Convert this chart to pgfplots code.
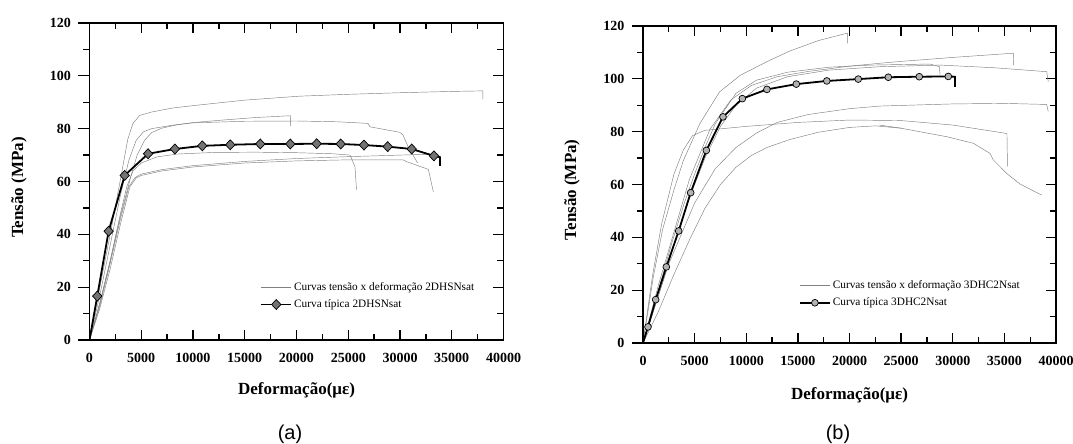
\documentclass[border=0pt]{standalone}
\usepackage{fontspec}
\setmainfont{Liberation Serif}
\newfontfamily\capfont{Liberation Sans}
\usepackage{pgfplots}
\pgfplotsset{compat=1.18}

\pgfplotsset{
  panel/.style={
    scale only axis, width=414pt, height=317pt,
    xmin=0, xmax=40000, ymin=0, ymax=120,
    scaled x ticks=false,
    tick align=inside,
    xtick={0,5000,...,40000},
    xticklabels={0,5000,10000,15000,20000,25000,30000,35000,40000},
    minor x tick num=1,
    ytick={0,20,...,120}, yticklabels={},
    ytick pos=right,
    minor y tick num=1,
    major tick length=10pt, minor tick length=6pt,
    tick style={black, line width=1.3pt},
    axis line style={line width=1.6pt},
    tick label style={font=\fontsize{14}{14}\selectfont\bfseries},
    xticklabel style={yshift=-10pt},
    label style={font=\fontsize{17}{17}\selectfont\bfseries},
    xlabel={Deformação(με)},
    ylabel={Tensão (MPa)},
    legend cell align=left,
    legend style={draw=none, fill=none, row sep=4pt, font=\fontsize{11.3}{12}\selectfont},
    legend image code/.code={\draw[##1,mark indices={2}] plot coordinates {(0pt,0pt) (15pt,0pt) (30pt,0pt)};},
  },
  leftax/.style={
    scale only axis, width=414pt, height=317pt,
    xmin=0, xmax=40000, ymin=0, ymax=120,
    axis x line=none, axis y line*=left,
    ytick={0,20,...,120}, yticklabels={0,20,40,60,80,100,120},
    minor y tick num=1, tick align=outside,
    major tick length=11pt, minor tick length=6pt,
    tick style={black, line width=1.3pt},
    axis line style={line width=1.6pt},
    tick label style={font=\fontsize{14}{14}\selectfont\bfseries},
    yticklabel style={xshift=-4pt},
  },
  gc/.style={color=black!50, line width=0.45pt},
  gcf/.style={gc, forget plot},
}

\begin{document}
\begin{tikzpicture}
\useasboundingbox (0,0) rectangle (1073pt,444pt);

% ---------------- panel (a)
\begin{axis}[panel, at={(89.5pt,104pt)}, anchor=south west,
  xlabel style={at={(axis description cs:0.5,-0.158)}, anchor=center},
  ylabel style={at={(axis description cs:-0.170,0.481)}, anchor=center},
  legend style={at={(0.405,0.195)}, anchor=north west}]
\addplot[gc] coordinates {(0,0) (1000,20) (2000,40) (3000,61) (3700,76) (4200,82) (4850,85) (6000,86.3) (8000,87.8) (10200,88.8) (15000,90.8) (20300,92.3) (25000,93) (30000,93.6) (35000,94.1) (38000,94.3) (38000,91.1)};
\addlegendentry{Curvas tensão x deformação 2DHSNsat}
\addplot[gcf] coordinates {(0,0) (1000,17) (2000,36) (3000,55) (3800,68) (4500,75.5) (5200,78.8) (6000,80) (8000,81.3) (10000,82.2) (15000,82.8) (20000,82.9) (24000,82.6) (26900,82) (27100,80.7) (30000,78.6) (30300,77.5) (30800,73) (31700,67)};
\addplot[gcf] coordinates {(0,0) (1000,14) (2000,30) (3000,47) (4000,62) (4600,70) (5300,75.5) (6000,78.5) (7000,80.2) (8500,81.5) (10000,82.3) (13000,83.3) (16000,84.2) (19400,84.9) (19400,81.1)};
\addplot[gcf] coordinates {(0,0) (1000,14) (2000,30) (3000,48) (3600,58) (4200,64) (5000,67) (6500,69.3) (8500,70.4) (12000,71) (16000,71.1) (20000,70.9) (23500,70.5) (25170,70) (25650,65.6) (25800,56.8)};
\addplot[gcf] coordinates {(0,0) (1000,13) (2000,29) (3000,46) (3800,58) (4400,61.5) (5000,62.8) (7000,64.5) (10000,66) (15000,67.6) (20000,68.7) (25000,69.4) (30000,70) (33700,70.4)};
\addplot[gcf] coordinates {(0,0) (1000,12) (2000,27) (3000,44) (3900,58) (4500,61.3) (5000,62.3) (7000,64) (10000,65.5) (15000,67) (20000,67.8) (25000,68.2) (30300,68.2) (30650,67.5) (32740,64.6) (33220,56.1)};
\addplot[black, line width=1.8pt, mark=diamond*, mark size=5pt,
  mark options={fill=black!55, draw=black, line width=0.7pt, xscale=1.25},
  mark indices={2,3,...,16}] coordinates {
  (0,0) (750,16.6) (1850,41.2) (3400,62.3) (5660,70.5) (8250,72.3) (10900,73.5) (13600,73.9)
  (16500,74.2) (19400,74.2) (21950,74.3) (24270,74.2) (26520,73.8) (28810,73.2) (31130,72.3)
  (33280,69.7) (33860,69.2) (33860,65.9)};
\addlegendentry{Curva típica 2DHSNsat}
\end{axis}
\begin{axis}[leftax, at={(89.5pt,104pt)}, anchor=south west]
\end{axis}

% ---------------- panel (b)
\begin{axis}[panel, width=413pt, at={(643pt,101pt)}, anchor=south west,
  xlabel style={at={(axis description cs:0.5,-0.164)}, anchor=center},
  ylabel style={at={(axis description cs:-0.172,0.483)}, anchor=center},
  legend style={at={(0.370,0.21)}, anchor=north west}]
\addplot[gc] coordinates {(0,0) (1000,25) (1900,43) (3000,58) (3900,69) (5500,83) (7400,95) (9400,101.3) (12000,106.5) (14200,110.5) (17000,114.5) (19800,117.3) (19800,113.4)};
\addlegendentry{Curvas tensão x deformação 3DHC2Nsat}
\addplot[gcf] coordinates {(0,0) (1500,22) (3000,42) (4500,62) (6500,81) (8500,92) (10500,97.5) (13000,100.8) (16000,102.8) (20000,104.8) (22950,105.9) (25000,106.6) (30000,108.1) (35865,109.7) (35900,105.2)};
\addplot[gcf] coordinates {(0,0) (1500,20) (2800,38) (4000,53) (5000,64) (6000,74) (7000,83) (9000,94.5) (11000,99.5) (14000,102.5) (18000,104.4) (22000,105.2) (27800,105.6) (28700,104.6) (28770,101.4)};
\addplot[gcf] coordinates {(0,0) (1500,18) (3000,37) (4500,55) (6000,70) (7500,82) (9000,90) (11000,96.5) (14000,100.8) (18000,103.3) (23000,104.6) (28800,105.2) (34000,104.2) (39100,102.7) (39250,98.9)};
\addplot[gcf] coordinates {(0,0) (2500,30) (5000,53) (7000,66) (9000,74) (11000,79.5) (13000,83.5) (16000,86.5) (20000,88.7) (23000,89.7) (30000,90.5) (35000,90.7) (39100,90.3) (39250,87.6)};
\addplot[gcf] coordinates {(0,0) (900,25) (1800,45) (3000,64) (3900,73) (4800,78.5) (6000,80.5) (10000,82) (15000,83.5) (20000,84.4) (25000,84.2) (30000,82.5) (35250,79.3) (35300,66.8)};
\addplot[gcf] coordinates {(0,0) (1500,12) (3000,26) (4500,39) (6000,51) (7500,60) (9000,66.5) (10500,71) (12000,74) (14200,77) (17000,79.8) (20000,81.6) (22500,82.2) (25000,81.3) (29400,78.1) (32000,75.6) (33600,71.8) (33930,69.3) (35220,64.2) (36500,60.2) (38610,56)};
\addplot[gcf] coordinates {(22900,82.5) (25050,81.3)};
\addplot[black, line width=1.8pt, mark=*, mark size=3.4pt,
  mark options={fill=black!30, draw=black, line width=0.7pt},
  mark indices={2,3,...,16}] coordinates {
  (0,0) (484,6.1) (1227,16.4) (2260,28.8) (3454,42.4) (4616,56.9) (6133,72.9) (7747,85.6)
  (9620,92.5) (12000,96.0) (14850,98.0) (17800,99.2) (20850,99.9) (23760,100.6) (26760,100.8)
  (29570,100.9) (30220,100.8) (30220,97)};
\addlegendentry{Curva típica 3DHC2Nsat}
\end{axis}
\begin{axis}[leftax, width=413pt, at={(643pt,101pt)}, anchor=south west]
\end{axis}

\node[font=\capfont\fontsize{20}{20}\selectfont] at (290pt,10pt) {(a)};
\node[font=\capfont\fontsize{20}{20}\selectfont] at (838pt,10pt) {(b)};
\end{tikzpicture}
\end{document}
